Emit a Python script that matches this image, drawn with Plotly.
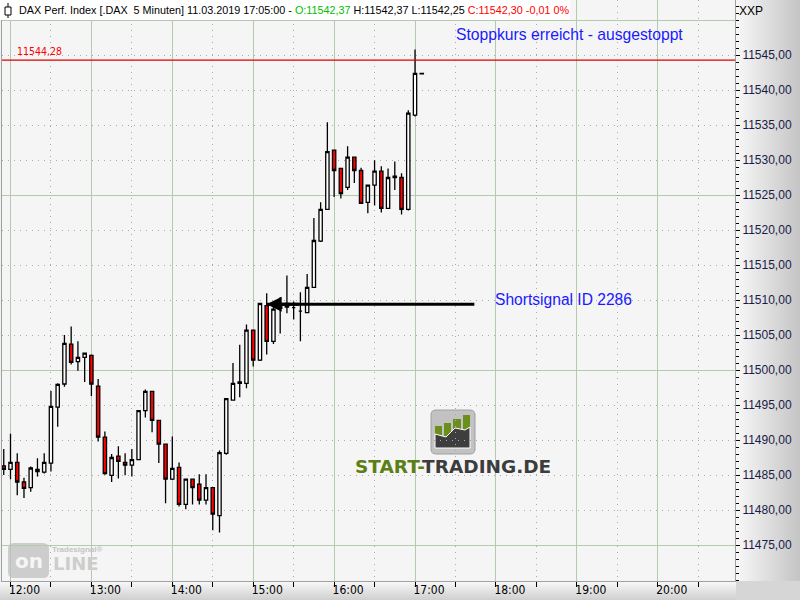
import plotly.graph_objects as go
import pandas as pd

# ---------------- data ----------------
opens = [11486.3, 11485.8, 11486.8, 11484.0, 11483.2, 11485.8, 11485.4, 11486.7, 11494.7, 11498.0,
         11503.7, 11501.2, 11501.8, 11502.1, 11497.7, 11490.4, 11484.95, 11487.7, 11486.8, 11486.4,
         11487.2, 11494.2, 11496.95, 11492.8, 11489.4, 11484.4, 11486.1, 11480.8, 11484.4, 11483.7,
         11481.4, 11483.2, 11479.2, 11488.1, 11495.7, 11498.1, 11498.1, 11505.7, 11501.4, 11509.2,
         11504.1, 11508.8, 11509.5, 11508.9, 11508.4, 11508.2, 11511.8, 11518.4, 11522.95, 11531.4,
         11528.8, 11526.1, 11530.4, 11528.5, 11523.95, 11526.4, 11528.4, 11523.1, 11527.7, 11527.5,
         11522.95, 11536.4, 11542.37]
highs = [11488.7, 11490.9, 11488.1, 11484.6, 11486.2, 11487.4, 11488.1, 11497.0, 11498.1, 11505.0,
         11506.2, 11504.1, 11502.5, 11502.2, 11498.7, 11491.2, 11488.0, 11489.1, 11488.1, 11488.7,
         11494.3, 11497.2, 11497.0, 11492.9, 11489.5, 11490.5, 11486.8, 11484.5, 11484.5, 11485.1,
         11485.1, 11483.3, 11488.5, 11496.0, 11501.0, 11503.6, 11506.5, 11505.8, 11509.6, 11510.95,
         11509.8, 11510.4, 11513.5, 11509.8, 11511.1, 11513.7, 11521.7, 11523.95, 11535.4, 11531.5,
         11528.9, 11531.95, 11530.5, 11528.9, 11526.5, 11529.95, 11529.1, 11528.8, 11529.8, 11528.1,
         11537.1, 11545.8, 11542.37]
lows = [11485.0, 11484.4, 11482.1, 11481.7, 11482.6, 11484.8, 11485.2, 11485.5, 11491.9, 11497.6,
        11500.8, 11499.9, 11498.3, 11496.3, 11489.8, 11485.05, 11484.0, 11484.5, 11484.95, 11484.8,
        11487.1, 11493.2, 11491.1, 11486.7, 11480.95, 11484.3, 11480.5, 11480.1, 11480.8, 11480.8,
        11480.8, 11477.1, 11476.8, 11487.9, 11495.6, 11496.1, 11497.4, 11500.5, 11501.3, 11502.2,
        11503.7, 11505.2, 11508.1, 11507.2, 11504.1, 11508.1, 11511.7, 11518.3, 11522.9, 11524.7,
        11524.5, 11525.7, 11526.7, 11523.7, 11522.4, 11523.5, 11522.5, 11523.0, 11525.7, 11522.2,
        11522.8, 11536.2, 11542.25]
closes = [11485.8, 11486.8, 11484.0, 11483.1, 11486.0, 11485.5, 11486.8, 11494.8, 11497.95, 11503.8,
          11501.1, 11501.8, 11502.4, 11498.0, 11490.4, 11485.2, 11487.5, 11486.95, 11486.4, 11487.2,
          11494.2, 11496.95, 11492.8, 11489.4, 11484.4, 11485.95, 11480.8, 11484.4, 11483.2, 11481.4,
          11483.2, 11479.4, 11488.2, 11495.9, 11498.1, 11498.3, 11505.7, 11501.4, 11509.5, 11504.1,
          11508.7, 11509.4, 11509.0, 11508.9, 11508.4, 11511.8, 11518.5, 11522.95, 11531.2, 11528.5,
          11525.2, 11530.4, 11528.5, 11523.8, 11526.4, 11528.4, 11523.1, 11527.5, 11527.5, 11522.95,
          11536.7, 11542.37, 11542.30]
times = pd.date_range("2019-03-11 11:55", periods=len(opens), freq="5min")

x_range = ["2019-03-11 11:53:42", "2019-03-11 20:57:18"]
y_range = [11469.86, 11552.86]
y_tickvals = [11475, 11480, 11485, 11490, 11495, 11500, 11505, 11510,
              11515, 11520, 11525, 11530, 11535, 11540, 11545]

stop_level = 11544.28
stop_label = "11544,28"
stop_text = "Stoppkurs erreicht - ausgestoppt"
signal_price = 11509.4
signal_start = "2019-03-11 15:10"
signal_end = "2019-03-11 17:44"
signal_text = "Shortsignal ID 2286"

header_main = "DAX Perf. Index [.DAX\u00a0 5 Minuten] 11.03.2019 17:05:00 - "
header_o = "O:11542,37"
header_hl = " H:11542,37 L:11542,25 "
header_c = "C:11542,30 -0,01 0%"

# ---------------- geometry helpers (pixel -> paper) ----------------
W, H = 800, 600
ML, MR, MT, MB = 2, 65, 0, 19
PW = W - ML - MR
PH = H - MT - MB


def px(x):
    return (x - ML) / PW


def py(y):
    return (H - MB - y) / PH


def grey(v):
    v = int(round(v))
    return f"rgb({v},{v},{v})"


NARROW = "Liberation Sans Narrow, Arial Narrow, DejaVu Sans Condensed, sans-serif"
ARIAL = "Liberation Sans, Arial, sans-serif"

fig = go.Figure()

fig.add_trace(go.Candlestick(
    x=times, open=opens, high=highs, low=lows, close=closes,
    increasing=dict(line=dict(color="black", width=1.3), fillcolor="white"),
    decreasing=dict(line=dict(color="black", width=1.3), fillcolor="#ff0000"),
    hoverinfo="skip", showlegend=False,
))

# invisible helper trace so the overlay axis (solid 25-pt grid) is drawn
fig.add_trace(go.Scatter(x=times, y=closes, yaxis="y2", mode="lines",
                         line=dict(width=0, color="rgba(0,0,0,0)"),
                         hoverinfo="skip", showlegend=False))

# short signal line
fig.add_trace(go.Scatter(x=[signal_start, signal_end], y=[signal_price, signal_price],
                         mode="lines", line=dict(color="black", width=3),
                         hoverinfo="skip", showlegend=False))

shapes = []
# right axis panel gradient
n = 32
for i in range(n):
    x0 = 736 + i * 2
    shapes.append(dict(type="rect", xref="paper", yref="paper",
                       x0=px(x0), x1=px(x0 + 2), y0=py(581), y1=py(0),
                       fillcolor=grey(247 - 50 * i / (n - 1)), line=dict(width=0), layer="below"))
# bottom axis panel gradient
for i in range(19):
    y0 = 582 + i
    shapes.append(dict(type="rect", xref="paper", yref="paper",
                       x0=px(0), x1=px(736), y0=py(y0 + 1), y1=py(y0),
                       fillcolor=grey(246 - 40 * i / 18), line=dict(width=0), layer="below"))
shapes.append(dict(type="rect", xref="paper", yref="paper", x0=px(736), x1=px(800),
                   y0=py(600), y1=py(581), fillcolor="#d6d6d6", line=dict(width=0), layer="below"))

# stop line
shapes.append(dict(type="line", xref="paper", yref="y", x0=0, x1=1, y0=stop_level, y1=stop_level,
                   line=dict(color="#e00000", width=1.2)))

# header box
shapes.append(dict(type="rect", xref="paper", yref="paper", x0=px(0), x1=px(570),
                   y0=py(20), y1=py(0), fillcolor="white", line=dict(width=0), layer="above"))
shapes.append(dict(type="line", xref="paper", yref="paper", x0=px(8), x1=px(8),
                   y0=py(18), y1=py(3), line=dict(color="black", width=1), layer="above"))
shapes.append(dict(type="rect", xref="paper", yref="paper", x0=px(5), x1=px(11),
                   y0=py(15), y1=py(7), fillcolor="white", line=dict(color="black", width=1),
                   layer="above"))


def rrect(x0, y0, x1, y1, r):
    a, b, c, d = px(x0), py(y0), px(x1), py(y1)
    rx = r / PW
    ry = r / PH
    return (f"M {a+rx},{b} L {c-rx},{b} Q {c},{b} {c},{b-ry} L {c},{d+ry} Q {c},{d} {c-rx},{d} "
            f"L {a+rx},{d} Q {a},{d} {a},{d+ry} L {a},{b-ry} Q {a},{b} {a+rx},{b} Z")


# start-trading logo icon
shapes.append(dict(type="path", xref="paper", yref="paper", path=rrect(431, 410, 475, 454, 5),
                   fillcolor="#c2c2c2", line=dict(color="#a0a0a0", width=1), layer="below"))
for (bx0, bx1, top) in [(435, 442, 426), (444, 451, 423), (453, 461, 419), (463, 470, 415)]:
    shapes.append(dict(type="rect", xref="paper", yref="paper", x0=px(bx0), x1=px(bx1),
                       y0=py(448), y1=py(top), fillcolor="#6a8f1c", line=dict(width=0),
                       layer="below"))
pts = [(435, 448), (435, 434), (446, 437), (455, 428), (465, 430), (470, 427), (470, 448)]
path = "M " + " L ".join(f"{px(a)},{py(b)}" for a, b in pts) + " Z"
shapes.append(dict(type="path", xref="paper", yref="paper", path=path,
                   fillcolor="#3e3e3e", line=dict(color="white", width=1), layer="below"))

# tradesignal online watermark
shapes.append(dict(type="path", xref="paper", yref="paper", path=rrect(8, 543, 49, 578, 6),
                   fillcolor="#cdcdcd", line=dict(width=0), layer="below"))

annotations = [
    dict(xref="paper", yref="paper", x=px(17), y=py(10), xanchor="left", yanchor="middle",
         showarrow=False, font=dict(family=ARIAL, size=10.8, color="black"),
         text=(header_main + f"<span style='color:#00c000'>{header_o}</span>" + header_hl
               + f"<span style='color:#ff0000'>{header_c}</span>")),
    dict(xref="paper", yref="paper", x=px(737), y=py(11), xanchor="left", yanchor="middle",
         showarrow=False, text="XXP", font=dict(family=ARIAL, size=12, color="black")),
    dict(xref="paper", yref="y", x=px(15), y=stop_level, xanchor="left", yanchor="bottom",
         yshift=1, showarrow=False, text=stop_label,
         font=dict(family=NARROW, size=10.5, color="#ff0000")),
    dict(xref="paper", yref="paper", x=px(454), y=py(35), xanchor="left", yanchor="middle",
         showarrow=False, text=stop_text, font=dict(family=ARIAL, size=15.7, color="#1a1aff")),
    dict(xref="x", yref="y", x=signal_end, y=signal_price, xanchor="left", yanchor="middle",
         xshift=19, yshift=5, showarrow=False, text=signal_text,
         font=dict(family=ARIAL, size=15.6, color="#1a1aff")),
    dict(xref="x", yref="y", x=signal_start, y=signal_price, axref="x", ayref="y",
         ax="2019-03-11 15:35", ay=signal_price, text="", showarrow=True,
         arrowhead=2, arrowsize=1, arrowwidth=3, arrowcolor="black", standoff=0),
    dict(xref="paper", yref="paper", x=px(453), y=py(466), xanchor="center", yanchor="middle",
         showarrow=False,
         text="<b><span style='color:#5b7f14'>START-</span><span style='color:#3c3c3c'>TRADING.DE</span></b>",
         font=dict(family="DejaVu Sans, sans-serif", size=18.5)),
    dict(xref="paper", yref="paper", x=px(28.5), y=py(561), xanchor="center", yanchor="middle",
         showarrow=False, text="<b>on</b>", font=dict(family="DejaVu Sans, sans-serif", size=20,
                                                      color="#f5f5f5")),
    dict(xref="paper", yref="paper", x=px(51), y=py(563), xanchor="left", yanchor="middle",
         showarrow=False, text="<b>LINE</b>", font=dict(family="DejaVu Sans, sans-serif", size=18,
                                                        color="#cdcdcd")),
    dict(xref="paper", yref="paper", x=px(50), y=py(549), xanchor="left", yanchor="middle",
         showarrow=False, text="<b>Tradesignal®</b>", font=dict(family=ARIAL, size=8,
                                                              color="#c4c4c4")),
]

fig.update_layout(
    width=W, height=H,
    margin=dict(l=ML, r=MR, t=MT, b=MB, pad=0),
    paper_bgcolor="#f0f0f0", plot_bgcolor="#f5f5f5",
    showlegend=False, hovermode=False, separators=",.",
    font=dict(family=ARIAL, size=12, color="black"),
    shapes=shapes, annotations=annotations,
    xaxis=dict(
        type="date", range=x_range, rangeslider=dict(visible=False),
        tick0="2019-03-11 12:00", dtick=3600000, tickformat="%H:%M",
        ticks="outside", ticklen=5, tickcolor="black", tickwidth=1,
        showgrid=True, gridcolor="#b5c9b0", gridwidth=1,
        minor=dict(tick0="2019-03-11 12:00", dtick=1800000, ticks="outside", ticklen=5,
                   tickcolor="black", showgrid=True, gridcolor="#a9a9a9", griddash="1px,5px"),
        showline=True, linecolor="#a0a0a0", linewidth=1,
        ticklabelshift=14, ticklabelstandoff=-7,
        tickfont=dict(family=NARROW, size=12, color="black"),
        zeroline=False, automargin=False, fixedrange=True,
    ),
    yaxis=dict(
        side="right", range=y_range, tickmode="array", tickvals=y_tickvals, tickformat=".2f",
        ticks="outside", ticklen=4, tickcolor="black", tickwidth=1,
        minor=dict(tick0=11470, dtick=1, ticks="outside", ticklen=3, tickcolor="black"),
        showgrid=True, gridcolor="#a9a9a9", griddash="1px,5px",
        showline=True, mirror=True, linecolor="#a0a0a0", linewidth=1,
        tickfont=dict(family=ARIAL, size=12, color="#1a1a48"),
        zeroline=False, automargin=False, fixedrange=True,
    ),
    yaxis2=dict(
        overlaying="y", side="right", range=y_range, tickmode="linear", tick0=11475, dtick=25,
        showgrid=True, gridcolor="#b5c9b0", gridwidth=1, showticklabels=False, ticks="",
        showline=False, zeroline=False, automargin=False, fixedrange=True,
    ),
)

fig.write_html("out.html", config={"displayModeBar": False},
               post_script="document.body.style.margin='0px';")
